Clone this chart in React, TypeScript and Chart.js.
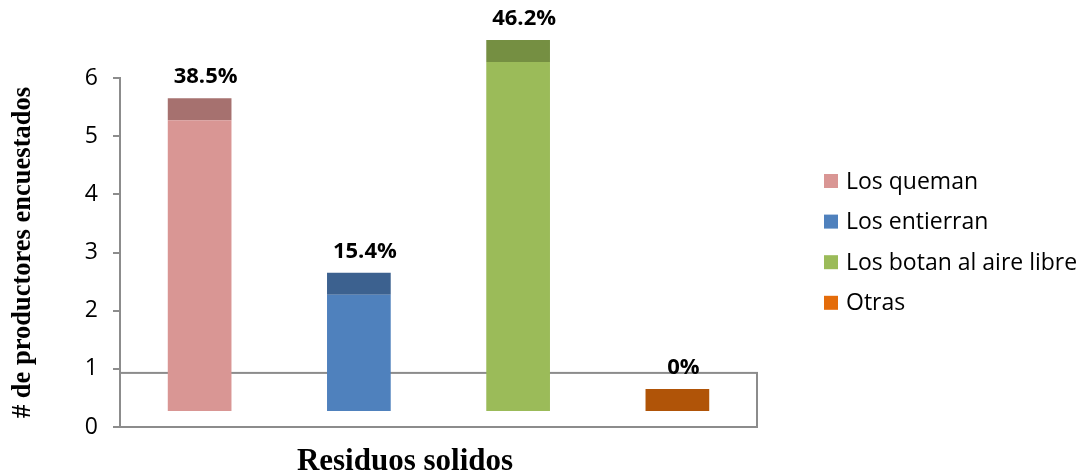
import React, { useEffect, useRef } from "react";
import { Chart, registerables } from "chart.js";

Chart.register(...registerables);

// Survey answers: how producers dispose of solid waste
const categories = ["Los queman", "Los entierran", "Los botan al aire libre", "Otras"];
const counts = [5, 2, 6, 0];
const frontColors = ["#D99694", "#4F81BD", "#9BBB59", "#E46C0A"];
const topColors = ["#A6716F", "#3C618F", "#758F42", "#B05408"];
const yTicks = [0, 1, 2, 3, 4, 5, 6];
const xTitle = "Residuos solidos";
const yTitle = "# de productores encuestados";

// Pseudo-3D look: columns stand on a floor slab and carry a darker top face
const FLOOR_LIFT = 0.275;
const TOP_DEPTH = 0.378;
const FLOOR_TOP = 0.93;

const total = counts.reduce((a, b) => a + b, 0);
const pctLabels = counts.map((c) => {
  const p = (c / total) * 100;
  return p === 0 ? "0%" : p.toFixed(1) + "%";
});

const SANS = "'Open Sans', Lato, sans-serif";
const SERIF = "'Liberation Serif', 'DejaVu Serif', serif";

const decorPlugin = {
  id: "decor",
  beforeDatasetsDraw(chart: any) {
    const { ctx, chartArea, scales } = chart;
    const y = scales.y;
    const top = y.getPixelForValue(FLOOR_TOP);
    const bottom = y.getPixelForValue(0);
    ctx.save();
    ctx.strokeStyle = "#8C8C8C";
    ctx.lineWidth = 2;
    ctx.strokeRect(chartArea.left, top, chartArea.right - chartArea.left, bottom - top);
    ctx.restore();
  },
  afterDatasetsDraw(chart: any) {
    const { ctx, scales } = chart;
    ctx.save();
    ctx.font = "bold 22px " + SANS;
    ctx.fillStyle = "#000";
    ctx.textAlign = "center";
    ctx.textBaseline = "middle";
    counts.forEach((c, i) => {
      const x = scales.x.getPixelForValue(i) + 6;
      const yTop = scales.y.getPixelForValue(FLOOR_LIFT + c + TOP_DEPTH);
      ctx.fillText(pctLabels[i], x, yTop - 21);
    });
    ctx.restore();
  },
  afterDraw(chart: any) {
    const { ctx, chartArea } = chart;
    ctx.save();
    // legend
    const lx = chartArea.right + 67;
    ctx.font = "23px " + SANS;
    ctx.textBaseline = "middle";
    ctx.textAlign = "left";
    categories.forEach((name, i) => {
      const cy = 181 + i * 40.6;
      ctx.fillStyle = frontColors[i];
      ctx.fillRect(lx, cy - 7, 14, 14);
      ctx.fillStyle = "#000";
      ctx.fillText(name, lx + 22, cy + 1);
    });
    // category axis title
    ctx.font = "bold 31px " + SERIF;
    ctx.textAlign = "center";
    ctx.textBaseline = "alphabetic";
    ctx.fillText(xTitle, 405, 470);
    ctx.restore();
  },
};

export default function App() {
  const canvasRef = useRef<HTMLCanvasElement | null>(null);

  useEffect(() => {
    if (!canvasRef.current) return;
    const datasets: any[] = [];
    categories.forEach((name, i) => {
      datasets.push({
        label: name,
        data: categories.map((_, j) => (j === i ? [FLOOR_LIFT, FLOOR_LIFT + counts[i]] : null)),
        backgroundColor: frontColors[i],
      });
      datasets.push({
        label: name + " (top)",
        data: categories.map((_, j) =>
          j === i ? [FLOOR_LIFT + counts[i], FLOOR_LIFT + counts[i] + TOP_DEPTH] : null
        ),
        backgroundColor: topColors[i],
      });
    });

    const chart = new Chart(canvasRef.current, {
      type: "bar",
      data: { labels: categories, datasets },
      plugins: [decorPlugin],
      options: {
        animation: false,
        responsive: true,
        maintainAspectRatio: false,
        datasets: {
          bar: {
            grouped: false,
            categoryPercentage: 1,
            barPercentage: 0.4,
            clip: false as any,
            borderWidth: 0,
          },
        },
        layout: { padding: { top: 78, right: 325, bottom: 0, left: 0 } },
        plugins: {
          legend: { display: false },
          tooltip: { enabled: false },
        },
        scales: {
          x: {
            type: "category",
            grid: { display: false },
            border: { display: false },
            ticks: { display: false },
            afterFit: (scale: any) => {
              scale.height = 49;
            },
          },
          y: {
            min: 0,
            max: 6,
            afterBuildTicks: (scale: any) => {
              scale.ticks = yTicks.map((v) => ({ value: v }));
            },
            ticks: {
              font: { family: SANS, size: 23 },
              color: "#000",
              padding: 15,
            },
            grid: {
              display: true,
              drawOnChartArea: false,
              drawTicks: true,
              tickLength: 7,
              color: "#8C8C8C",
              lineWidth: 2,
            },
            border: { display: true, color: "#8C8C8C", width: 2 },
            title: {
              display: true,
              text: yTitle,
              font: { family: SERIF, size: 26.5, weight: "bold" },
              color: "#000",
              padding: { top: 7, bottom: 0 },
            },
            afterFit: (scale: any) => {
              scale.width = 120;
            },
          },
        },
      },
    });
    return () => chart.destroy();
  }, []);

  return (
    <div style={{ position: "absolute", left: 0, top: 0, width: 1082, height: 476, background: "#fff" }}>
      <canvas ref={canvasRef} />
    </div>
  );
}
